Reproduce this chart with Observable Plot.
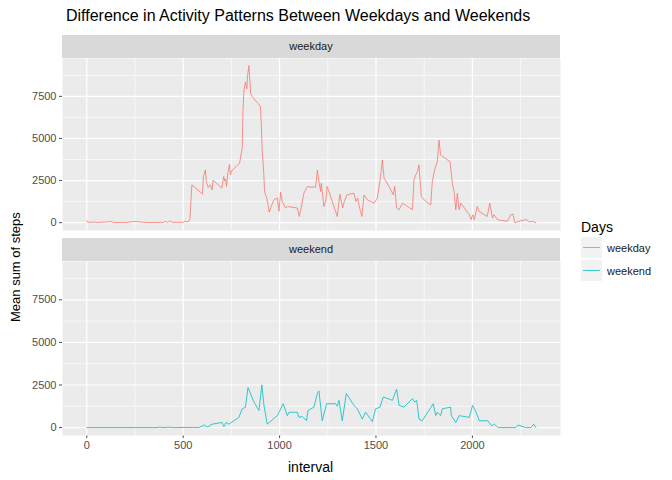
<!DOCTYPE html>
<html><head><meta charset="utf-8">
<script src="https://cdn.jsdelivr.net/npm/d3@7"></script>
<script src="https://cdn.jsdelivr.net/npm/@observablehq/plot@0.6"></script>
<style>
body{margin:0;font-family:"Liberation Sans",Arial,sans-serif;background:#fff}
#wrap{position:relative;width:672px;height:480px}
.abs{position:absolute}
.strip{background:#d9d9d9;color:#1a1a1a;font-size:11px;text-align:center;line-height:23px}
</style></head><body>
<div id="wrap">
  <div class="abs" style="left:66px;top:7px;font-size:16px;color:#000">Difference in Activity Patterns Between Weekdays and Weekends</div>
  <div class="abs strip" style="left:62px;top:35px;width:498px;height:23px">weekday</div>
  <div class="abs strip" style="left:62px;top:238px;width:498px;height:23px">weekend</div>
  <div id="p1" class="abs" style="left:0;top:58px"></div>
  <div id="p2" class="abs" style="left:0;top:261px"></div>
  <div class="abs" style="left:8px;top:322px;font-size:13px;transform:rotate(-90deg);transform-origin:left top;white-space:nowrap">Mean sum of steps</div>
  <div class="abs" style="left:288px;top:459px;font-size:14px">interval</div>
  <div class="abs" style="left:581px;top:219px;font-size:14px">Days</div>
  <div id="leg" class="abs" style="left:581px;top:236px"></div>
</div>
<script>
const weekdayInterval = [0,5,40,50,130,140,210,245,300,320,400,405,420,430,445,500,510,520,530,535,545,560,600,605,615,620,630,640,650,655,700,710,715,720,725,730,740,745,750,755,792,806,810,815,823,830,834,841,850,860,881,889,896,901,905,910,918,922,927,932,940,946,970,988,997,1005,1014,1031,1040,1092,1102,1112,1126,1144,1161,1187,1196,1204,1213,1216,1230,1239,1247,1299,1313,1327,1336,1349,1386,1396,1405,1413,1427,1438,1455,1490,1507,1524,1533,1542,1568,1590,1597,1607,1620,1637,1663,1689,1697,1706,1715,1723,1735,1758,1784,1792,1804,1818,1827,1835,1884,1896,1905,1914,1922,1931,1940,1984,1993,2001,2010,2025,2034,2077,2090,2104,2112,2130,2181,2199,2211,2220,2251,2282,2294,2311,2329];
const weekdaySteps = [120,20,40,10,60,10,20,70,20,10,20,80,10,90,20,20,100,40,100,230,2250,2100,1700,2740,3130,2440,2090,2240,1950,2520,2050,2740,2480,2600,2150,2830,3460,2830,3030,3130,3520,4400,6670,7850,8350,7950,8740,9330,7660,7460,7170,7070,6970,6870,5890,4210,2930,1850,1650,1550,1060,630,1360,1460,670,1810,1260,870,960,870,370,870,1750,2150,2110,2110,3130,2440,1850,2340,960,1260,2150,370,1690,870,1260,1650,1750,1260,1460,960,370,1650,1360,1160,1460,2740,3720,2640,2150,1650,2150,870,770,1160,960,770,2540,2830,3030,3430,1550,1260,1060,2440,3130,3620,4900,4020,3620,2340,1850,770,1750,770,1160,470,180,470,180,960,670,370,1160,280,470,180,80,470,510,0,120,180,40,80,0];
const weekendInterval = [0,370,374,400,425,451,547,581,611,625,650,702,711,723,737,789,806,823,836,867,893,908,919,936,988,1019,1040,1049,1092,1100,1118,1140,1147,1178,1196,1204,1221,1244,1291,1299,1308,1325,1346,1386,1403,1429,1446,1481,1498,1521,1538,1585,1607,1620,1645,1689,1701,1711,1723,1740,1797,1810,1818,1835,1844,1887,1891,1914,1931,1984,2001,2019,2036,2080,2100,2114,2133,2225,2237,2277,2303,2318,2329];
const weekendSteps = [0,0,30,0,20,0,10,0,150,30,200,300,50,300,200,600,1100,1200,2350,1500,1000,2500,1300,200,700,1400,700,900,900,600,650,400,1000,1200,2000,2150,400,1400,1400,1250,1600,400,2000,1300,1100,500,900,350,1100,1200,1800,1600,2250,1300,1200,1700,1500,1600,500,400,1400,700,900,700,1100,1200,700,300,700,600,1300,900,400,400,100,200,0,0,150,0,0,200,0];
const days = ["weekday","weekend"];
const colors = ["#F8766D","#00BFC4"];
const yTicks = [0,2500,5000,7500];
const xTicks = [0,500,1000,1500,2000];

const xDom = [-126, 2457], yDom = [-465, 9750];
function panel(xs, ys, color, withAxis) {
  const data = xs.map((x,i)=>({interval:x, steps:ys[i]}));
  return Plot.plot({
    width:560, height: withAxis ? 219 : 172,
    marginLeft:62, marginRight:0, marginTop:0, marginBottom: withAxis ? 45 : 0,
    style:{fontFamily:"Liberation Sans, Arial, sans-serif", fontSize:"11px", color:"#4d4d4d", overflow:"visible"},
    x:{domain:xDom, label:null, ticks:xTicks, tickFormat:d3.format("d"), axis: withAxis ? "bottom" : null, tickSize:3, tickPadding:3},
    y:{domain:yDom, label:null, ticks:yTicks, tickFormat:d3.format("d"), tickSize:3, tickPadding:3},
    marks:[
      Plot.frame({fill:"#ebebeb", stroke:null}),
      Plot.ruleY([1250,3750,6250,8750], {stroke:"#fff", strokeWidth:0.6}),
      Plot.ruleX([250,750,1250,1750,2250], {stroke:"#fff", strokeWidth:0.6}),
      Plot.ruleY(yTicks, {stroke:"#fff", strokeWidth:1.2}),
      Plot.ruleX(xTicks, {stroke:"#fff", strokeWidth:1.2}),
      Plot.line(data, {x:"interval", y:"steps", stroke:color, strokeWidth:0.8})
    ]
  });
}
d3.select("#p1").append(() => panel(weekdayInterval, weekdaySteps, colors[0], false));
d3.select("#p2").append(() => panel(weekendInterval, weekendSteps, colors[1], true));

const leg = d3.select("#leg");
days.forEach((d,i)=>{
  const row = leg.append("div").style("display","flex").style("align-items","center").style("height","23px");
  const box = row.append("svg").attr("width",21).attr("height",21);
  box.append("rect").attr("width",21).attr("height",21).attr("fill","#f2f2f2");
  box.append("line").attr("x1",2).attr("x2",19).attr("y1",10.5).attr("y2",10.5).attr("stroke",colors[i]).attr("stroke-width",0.8);
  row.append("span").text(d).style("font-size","11px").style("margin-left","5px").style("color","#1a1a1a");
});
</script>
</body></html>
